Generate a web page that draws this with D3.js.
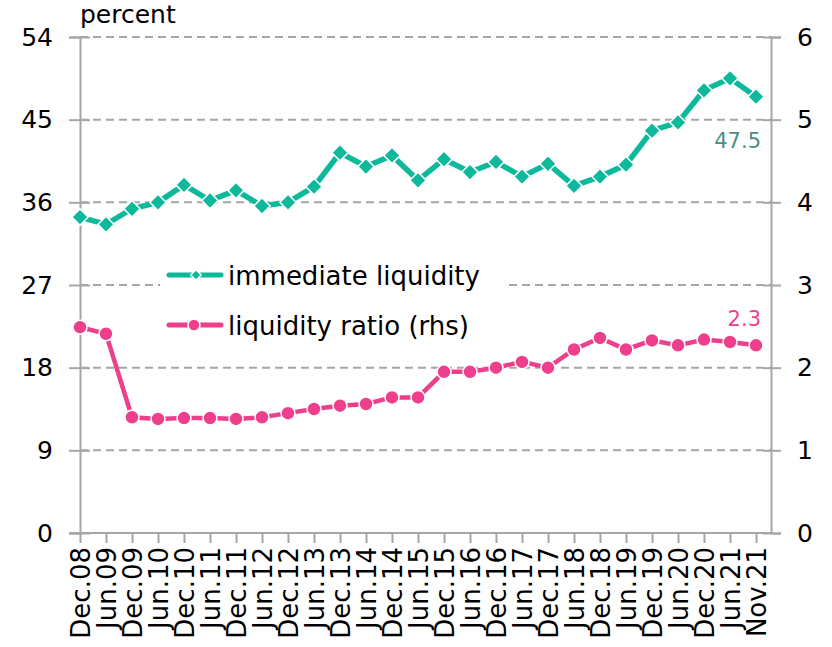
<!DOCTYPE html>
<html>
<head>
<meta charset="utf-8">
<script src="https://cdn.jsdelivr.net/npm/d3@7"></script>
<style>
  body { margin: 0; background: #fff; }
  text { font-family: 'DejaVu Sans', sans-serif; }
</style>
</head>
<body>
<div id="chart"></div>
<script>
const categories = ['Dec.08', 'Jun.09', 'Dec.09', 'Jun.10', 'Dec.10', 'Jun.11', 'Dec.11', 'Jun.12', 'Dec.12',
  'Jun.13', 'Dec.13', 'Jun.14', 'Dec.14', 'Jun.15', 'Dec.15', 'Jun.16', 'Dec.16', 'Jun.17', 'Dec.17',
  'Jun.18', 'Dec.18', 'Jun.19', 'Dec.19', 'Jun.20', 'Dec.20', 'Jun.21', 'Nov.21']

const immediateLiquidity = [34.4, 33.6, 35.3, 36.0, 37.9, 36.2, 37.3, 35.6, 36.0, 37.7, 41.4, 39.9, 41.1,
  38.4, 40.7, 39.3, 40.4, 38.8, 40.2, 37.8, 38.8, 40.1, 43.8, 44.7, 48.2, 49.5, 47.5]

const liquidityRatio = [2.49, 2.41, 1.40, 1.38, 1.39, 1.39, 1.38, 1.40, 1.45, 1.50, 1.54, 1.56, 1.64,
  1.64, 1.95, 1.95, 2.00, 2.07, 2.00, 2.22, 2.36, 2.22, 2.33, 2.27, 2.34, 2.31, 2.27]

const leftTicks = [0, 9, 18, 27, 36, 45, 54]
const rightTicks = [0, 1, 2, 3, 4, 5, 6]

const width = 832
const height = 647
const teal = '#0db99b'
const pink = '#ee3f8c'
const grey = '#a6a6a6'

const svg = d3.select('#chart').append('svg')
  .attr('width', width)
  .attr('height', height)

const plotLeft = 80
const plotRight = 771
const plotTop = 37
const plotBottom = 533

const x = d3.scalePoint().domain(categories).range([plotLeft, 756])
const yLeft = d3.scaleLinear().domain([0, 54]).range([plotBottom, plotTop])
const yRight = d3.scaleLinear().domain([0, 6]).range([plotBottom, plotTop])

// gridlines
svg.append('g')
  .selectAll('line')
  .data(leftTicks.slice(1))
  .join('line')
  .attr('x1', plotLeft)
  .attr('x2', plotRight)
  .attr('y1', d => yLeft(d))
  .attr('y2', d => yLeft(d))
  .attr('stroke', grey)
  .attr('stroke-width', 2)
  .attr('stroke-dasharray', '8,5')

// left axis
const leftAxis = svg.append('g')
  .attr('transform', `translate(${plotLeft},0)`)
  .call(d3.axisLeft(yLeft).tickValues(leftTicks).tickSize(11).tickPadding(16))
leftAxis.selectAll('.tick line').attr('x2', -11).attr('x1', 10)

// right axis
const rightAxis = svg.append('g')
  .attr('transform', `translate(${plotRight},0)`)
  .call(d3.axisRight(yRight).tickValues(rightTicks).tickFormat(d3.format('d')).tickSize(10).tickPadding(16))
rightAxis.selectAll('.tick line').attr('x1', -8).attr('x2', 10)

// bottom axis
const bottomAxis = svg.append('g')
  .attr('transform', `translate(0,${plotBottom})`)
  .call(d3.axisBottom(x).tickSize(10).tickPadding(8))
bottomAxis.select('.domain').attr('d', `M${plotLeft - 11},0H${plotRight}`)

svg.selectAll('.domain').attr('stroke', grey).attr('stroke-width', 2)
svg.selectAll('.tick line').attr('stroke', grey).attr('stroke-width', 2)
leftAxis.selectAll('text').attr('font-size', 25).attr('fill', '#000').attr('font-family', 'DejaVu Sans')
rightAxis.selectAll('text').attr('font-size', 25).attr('fill', '#000').attr('font-family', 'DejaVu Sans')
bottomAxis.selectAll('text')
  .attr('font-size', 26)
  .attr('font-family', 'DejaVu Sans')
  .attr('fill', '#000')
  .attr('text-anchor', 'end')
  .attr('dy', '0.36em')
  .attr('dx', 0)
  .attr('transform', 'translate(0,6) rotate(-90)')
  .attr('y', 0)
  .attr('x', -8)

svg.append('text')
  .attr('x', 80)
  .attr('y', 23)
  .attr('font-size', 25)
  .text('percent')

// liquidity ratio (rhs)
const pinkLine = d3.line()
  .x((d, i) => x(categories[i]))
  .y(d => yRight(d))

svg.append('path')
  .datum(liquidityRatio)
  .attr('d', pinkLine)
  .attr('fill', 'none')
  .attr('stroke', pink)
  .attr('stroke-width', 4.5)

svg.append('g')
  .selectAll('circle')
  .data(liquidityRatio)
  .join('circle')
  .attr('cx', (d, i) => x(categories[i]))
  .attr('cy', d => yRight(d))
  .attr('r', 7)
  .attr('fill', pink)
  .attr('stroke', '#fff')
  .attr('stroke-width', 1.5)

// immediate liquidity
const tealLine = d3.line()
  .x((d, i) => x(categories[i]))
  .y(d => yLeft(d))

svg.append('path')
  .datum(immediateLiquidity)
  .attr('d', tealLine)
  .attr('fill', 'none')
  .attr('stroke', teal)
  .attr('stroke-width', 5.5)

const diamond = d3.symbol().type(d3.symbolDiamond2).size(170)

svg.append('g')
  .selectAll('path')
  .data(immediateLiquidity)
  .join('path')
  .attr('d', diamond)
  .attr('transform', (d, i) => `translate(${x(categories[i])},${yLeft(d)})`)
  .attr('fill', teal)
  .attr('stroke', '#fff')
  .attr('stroke-width', 1.5)

// data labels
svg.append('text')
  .attr('x', x('Nov.21') + 5)
  .attr('y', yLeft(immediateLiquidity[immediateLiquidity.length - 1]) + 51)
  .attr('text-anchor', 'end')
  .attr('font-size', 21)
  .attr('fill', '#4a8f80')
  .text(immediateLiquidity[immediateLiquidity.length - 1].toFixed(1))

svg.append('text')
  .attr('x', x('Nov.21') + 5)
  .attr('y', yRight(liquidityRatio[liquidityRatio.length - 1]) - 19)
  .attr('text-anchor', 'end')
  .attr('font-size', 21)
  .attr('fill', pink)
  .text(d3.format('.1f')(liquidityRatio[liquidityRatio.length - 1]))

// legend
const legend = svg.append('g').attr('transform', 'translate(160,252)')
legend.append('rect')
  .attr('width', 348)
  .attr('height', 95)
  .attr('fill', '#fff')

const legendItems = [
  { label: 'immediate liquidity', color: teal, shape: 'diamond' },
  { label: 'liquidity ratio (rhs)', color: pink, shape: 'circle' },
]

legendItems.forEach((item, i) => {
  const row = legend.append('g').attr('transform', `translate(0,${23 + i * 50})`)
  row.append('line')
    .attr('x1', 9)
    .attr('x2', 61)
    .attr('stroke', item.color)
    .attr('stroke-width', 5)
    .attr('stroke-linecap', 'round')
  if (item.shape === 'diamond') {
    row.append('path')
      .attr('d', d3.symbol().type(d3.symbolDiamond2).size(70)())
      .attr('transform', 'translate(36,0)')
      .attr('fill', item.color)
      .attr('stroke', '#fff')
      .attr('stroke-width', 1.5)
  } else {
    row.append('circle')
      .attr('cx', 34)
      .attr('r', 6)
      .attr('fill', item.color)
      .attr('stroke', '#fff')
      .attr('stroke-width', 1.5)
  }
  row.append('text')
    .attr('x', 68)
    .attr('y', 10)
    .attr('font-size', 26)
    .attr('fill', '#000')
    .text(item.label)
})
</script>
</body>
</html>
